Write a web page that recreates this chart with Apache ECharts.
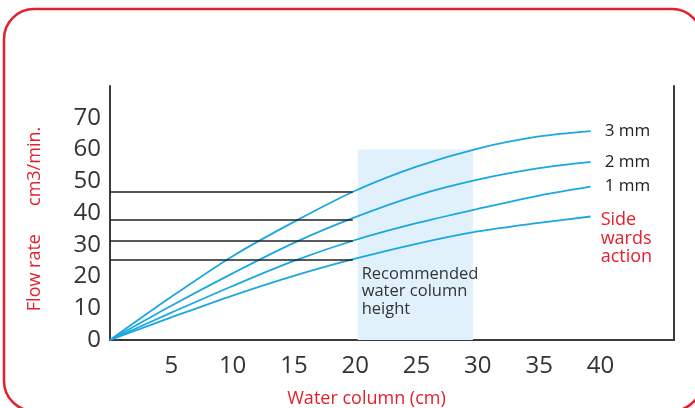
<!DOCTYPE html>
<html>
<head>
<meta charset="utf-8">
<script src="https://cdn.jsdelivr.net/npm/echarts@6/dist/echarts.min.js"></script>
<style>
	html, body { margin: 0; padding: 0; background: #fff; }
	#chart { width: 695px; height: 408px; }
</style>
</head>
<body>
<div id="chart"></div>
<script>
	// water column (cm)
	var waterColumn = [0, 5, 10, 15, 20, 25, 30, 35, 39.2];

	// flow rate (cm3/min.)
	var flow3mm  = [0, 13.6, 26.4, 37.2, 47.0, 54.6, 60.3, 64.1, 65.8];
	var flow2mm  = [0, 10.8, 21.0, 30.6, 38.7, 45.5, 50.5, 54.1, 56.1];
	var flow1mm  = [0,  8.6, 17.0, 24.9, 31.5, 36.8, 41.3, 45.5, 48.3];
	var flowSide = [0,  7.1, 14.0, 20.2, 25.6, 30.3, 34.2, 36.9, 38.9];

	var seriesNames = ['3 mm', '2 mm', '1 mm', 'Side\nwards\naction'];

	// reference levels drawn from the y axis to 20 cm
	var refLevels = [25.4, 31.3, 37.8, 46.8];
	var refEndX = 19.8;

	// recommended water column band
	var bandFrom = 20.2;
	var bandTo = 29.6;
	var bandTop = 60;
	var bandText = 'Recommended\nwater column\nheight';

	var xTicksShown = [5, 10, 15, 20, 25, 30, 35, 40];
	var yTicksShown = [0, 10, 20, 30, 40, 50, 60, 70];


	var colors = {
		curve: '#1ba7e1',
		axis: '#3a3a3a',
		text: '#333333',
		red: '#e4202c',
		band: '#e1f1fb'
	};
	var fontFamily = '"Open Sans", "DejaVu Sans", sans-serif';

	function pairs(xs, ys) {
		var out = [];
		for (var i = 0; i < xs.length; i++) out.push([xs[i], ys[i]]);
		return out;
	}

	var refLineData = refLevels.map(function (v) {
		return [{ coord: [0, v] }, { coord: [refEndX, v] }];
	});

	function curveSeries(name, values, extra) {
		var s = {
			name: name,
			type: 'line',
			smooth: 0.3,
			symbol: 'none',
			silent: true,
			data: pairs(waterColumn, values),
			lineStyle: { color: colors.curve, width: 1.8 },
			endLabel: {
				show: true,
				formatter: name,
				distance: 14,
				color: '#222',
				fontFamily: fontFamily,
				fontSize: 17
			}
		};
		if (extra) {
			for (var k in extra) s[k] = extra[k];
		}
		return s;
	}

	var series = [
		curveSeries(seriesNames[0], flow3mm, {
			markArea: {
				silent: true,
				itemStyle: { color: colors.band },
				label: {
					show: true,
					position: [4, 116],
					align: 'left',
					color: colors.text,
					fontFamily: fontFamily,
					fontSize: 16.5,
					lineHeight: 17.5
				},
				data: [[{ coord: [bandFrom, 0], name: bandText }, { coord: [bandTo, bandTop] }]]
			},
			markLine: {
				silent: true,
				symbol: 'none',
				label: { show: false },
				lineStyle: { color: '#222', width: 1.5, type: 'solid' },
				data: refLineData
			}
		}),
		curveSeries(seriesNames[1], flow2mm),
		curveSeries(seriesNames[2], flow1mm),
		curveSeries(seriesNames[3], flowSide)
	];
	series[3].endLabel.color = colors.red;
	series[3].endLabel.fontSize = 18;
	series[3].endLabel.lineHeight = 18.5;
	series[3].endLabel.distance = 10;
	series[3].endLabel.offset = [0, 22];


	var chart = echarts.init(document.getElementById('chart'));

	chart.setOption({
		backgroundColor: '#ffffff',
		animation: false,
		grid: {
			left: 110,
			right: 21,
			top: 86,
			bottom: 68,
			outerBoundsMode: 'none'
		},
		xAxis: {
			type: 'value',
			min: 0,
			max: 46,
			interval: 5,
			name: 'Water column (cm)',
			nameLocation: 'middle',
			nameGap: 50,
			nameTextStyle: {
				color: colors.red,
				fontFamily: fontFamily,
				fontSize: 18,
				padding: [0, 51, 0, 0]
			},
			axisLine: { show: true, lineStyle: { color: colors.axis, width: 2 } },
			axisTick: { show: false },
			splitLine: { show: false },
			axisLabel: {
				margin: 14,
				color: colors.text,
				fontFamily: fontFamily,
				fontSize: 24,
				formatter: function (v) {
					return xTicksShown.indexOf(v) > -1 ? String(v) : '';
				}
			}
		},
		yAxis: [
			{
				type: 'value',
				min: 0,
				max: 80,
				interval: 10,
				name: 'Flow rate      cm3/min.',
				nameLocation: 'middle',
				nameGap: 66,
				nameTextStyle: {
					color: colors.red,
					fontFamily: fontFamily,
					fontSize: 18,
					padding: [0, 12, 0, 0]
				},
				axisLine: { show: true, lineStyle: { color: colors.axis, width: 2 } },
				axisTick: { show: false },
				splitLine: { show: false },
				axisLabel: {
					margin: 9,
					color: colors.text,
					fontFamily: fontFamily,
					fontSize: 24,
					formatter: function (v) {
						return yTicksShown.indexOf(v) > -1 ? String(v) : '';
					}
				}
			},
			{
				// right frame line only
				type: 'value',
				position: 'right',
				min: 0,
				max: 80,
				axisLine: { show: true, lineStyle: { color: colors.axis, width: 2 } },
				axisTick: { show: false },
				axisLabel: { show: false },
				splitLine: { show: false }
			}
		],
		graphic: [
			{
				type: 'rect',
				silent: true,
				z: -1,
				shape: { x: 4, y: 9, width: 698, height: 402, r: 30 },
				style: { fill: 'none', stroke: colors.red, lineWidth: 2.5 }
			}
		],
		series: series
	});
</script>
</body>
</html>
